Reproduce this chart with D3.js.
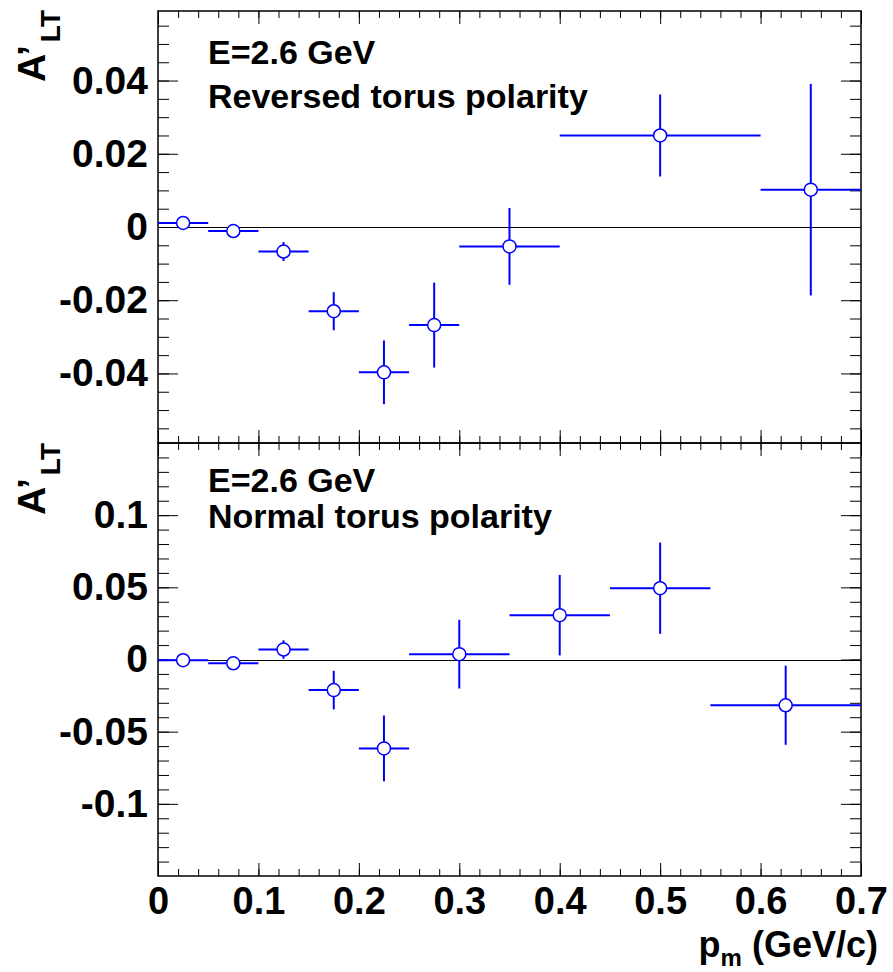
<!DOCTYPE html>
<html>
<head>
<meta charset="utf-8">
<script src="https://cdn.jsdelivr.net/npm/d3@7"></script>
<style>
  body { margin: 0; background: #fff; }
  svg { display: block; }
  text { font-family: "Liberation Sans", Arial, Helvetica, sans-serif; font-weight: bold; fill: #000; }
</style>
</head>
<body>
<div id="content"></div>
<script>
let width = 893;
let height = 972;

// x axis (shared)
let xTicks = [0, 0.1, 0.2, 0.3, 0.4, 0.5, 0.6, 0.7];

// top panel: reversed torus polarity
let revTicks = [-0.04, -0.02, 0, 0.02, 0.04];
let revX   = [0.025, 0.075, 0.125, 0.175, 0.225, 0.275, 0.35, 0.5, 0.65];
let revXLo = [0, 0.05, 0.1, 0.15, 0.2, 0.25, 0.3, 0.4, 0.6];
let revXHi = [0.05, 0.1, 0.15, 0.2, 0.25, 0.3, 0.4, 0.6, 0.7];
let revY   = [0.0011, -0.0011, -0.0067, -0.0230, -0.0397, -0.0268, -0.0053, 0.0250, 0.0102];
let revErr = [0.0008, 0.0009, 0.0026, 0.0052, 0.0087, 0.0116, 0.0105, 0.0112, 0.0289];

// bottom panel: normal torus polarity
let normTicks = [-0.1, -0.05, 0, 0.05, 0.1];
let normX   = [0.025, 0.075, 0.125, 0.175, 0.225, 0.3, 0.4, 0.5, 0.625];
let normXLo = [0, 0.05, 0.1, 0.15, 0.2, 0.25, 0.35, 0.45, 0.55];
let normXHi = [0.05, 0.1, 0.15, 0.2, 0.25, 0.35, 0.45, 0.55, 0.7];
let normY   = [-0.0005, -0.0026, 0.0069, -0.0212, -0.0616, 0.0037, 0.0307, 0.0494, -0.0317];
let normErr = [0.0020, 0.0020, 0.0064, 0.0134, 0.0228, 0.0238, 0.0279, 0.0316, 0.0274];

let frame = {left: 158, right: 861};
let blue = "#0000ff";

let svg = d3.select("#content")
    .append("svg")
    .attr("width", width)
    .attr("height", height);

let xScale = d3.scaleLinear()
    .domain([0, 0.7])
    .range([frame.left, frame.right]);

let xMinor = d3.range(0, 0.7001, 0.02);

function drawPanel(p) {
    let g = svg.append("g");
    let yScale = d3.scaleLinear().domain(p.domain).range([p.bottom, p.top]);

    // zero line
    let y0 = Math.round(yScale(0)) + 0.5;
    g.append("line")
        .attr("x1", frame.left).attr("x2", frame.right)
        .attr("y1", y0).attr("y2", y0)
        .attr("stroke", "#000").attr("stroke-width", 1);

    // frame
    g.append("rect")
        .attr("x", frame.left).attr("y", p.top)
        .attr("width", frame.right - frame.left)
        .attr("height", p.bottom - p.top)
        .attr("fill", "none").attr("stroke", "#000").attr("stroke-width", 1.5);

    let yMinor = d3.range(p.domain[0], p.domain[1], p.minorStep)
        .map(v => Math.round(v / p.minorStep) * p.minorStep)
        .filter(v => v > p.domain[0] && v < p.domain[1]);

    // left axis with labels
    g.append("g")
        .attr("transform", `translate(${frame.left},0)`)
        .call(d3.axisLeft(yScale).tickValues(p.ticks).tickFormat(d => String(d))
            .tickSizeInner(-20).tickSizeOuter(0).tickPadding(10))
        .call(a => a.select(".domain").remove())
        .call(a => a.selectAll("text").attr("font-size", 39).attr("font-family", null));
    g.append("g")
        .attr("transform", `translate(${frame.left},0)`)
        .call(d3.axisLeft(yScale).tickValues(yMinor).tickFormat("")
            .tickSizeInner(-11).tickSizeOuter(0))
        .call(a => a.select(".domain").remove());

    // right axis
    g.append("g")
        .attr("transform", `translate(${frame.right},0)`)
        .call(d3.axisRight(yScale).tickValues(p.ticks).tickFormat("")
            .tickSizeInner(-20).tickSizeOuter(0))
        .call(a => a.select(".domain").remove());
    g.append("g")
        .attr("transform", `translate(${frame.right},0)`)
        .call(d3.axisRight(yScale).tickValues(yMinor).tickFormat("")
            .tickSizeInner(-11).tickSizeOuter(0))
        .call(a => a.select(".domain").remove());

    // top axis (ticks only)
    g.append("g")
        .attr("transform", `translate(0,${p.top})`)
        .call(d3.axisTop(xScale).tickValues(xTicks).tickFormat("")
            .tickSizeInner(-13).tickSizeOuter(0))
        .call(a => a.select(".domain").remove());
    g.append("g")
        .attr("transform", `translate(0,${p.top})`)
        .call(d3.axisTop(xScale).tickValues(xMinor).tickFormat("")
            .tickSizeInner(-7).tickSizeOuter(0))
        .call(a => a.select(".domain").remove());

    // bottom axis
    let bAxis = d3.axisBottom(xScale).tickValues(xTicks)
        .tickSizeInner(-13).tickSizeOuter(0).tickPadding(11);
    if (p.xLabels) bAxis.tickFormat(d => String(d));
    else bAxis.tickFormat("");
    g.append("g")
        .attr("transform", `translate(0,${p.bottom})`)
        .call(bAxis)
        .call(a => a.select(".domain").remove())
        .call(a => a.selectAll("text").attr("font-size", 38).attr("font-family", null));
    g.append("g")
        .attr("transform", `translate(0,${p.bottom})`)
        .call(d3.axisBottom(xScale).tickValues(xMinor).tickFormat("")
            .tickSizeInner(-7).tickSizeOuter(0))
        .call(a => a.select(".domain").remove());

    g.selectAll(".tick line").attr("stroke", "#000").attr("stroke-width", 1);

    // data points with error bars
    let pts = p.x.map((x, i) => ({x: x, lo: p.xlo[i], hi: p.xhi[i], y: p.y[i], e: p.err[i]}));
    let pg = g.selectAll(".pt").data(pts).enter().append("g").attr("class", "pt");
    pg.append("line")
        .attr("x1", d => xScale(d.lo)).attr("x2", d => xScale(d.hi))
        .attr("y1", d => yScale(d.y)).attr("y2", d => yScale(d.y))
        .attr("stroke", blue).attr("stroke-width", 2);
    pg.append("line")
        .attr("x1", d => xScale(d.x)).attr("x2", d => xScale(d.x))
        .attr("y1", d => yScale(d.y - d.e)).attr("y2", d => yScale(d.y + d.e))
        .attr("stroke", blue).attr("stroke-width", 2);
    pg.append("circle")
        .attr("cx", d => xScale(d.x)).attr("cy", d => yScale(d.y))
        .attr("r", 6.5)
        .attr("fill", "#fff").attr("stroke", blue).attr("stroke-width", 1.5);

    // labels
    g.append("text").attr("x", 208).attr("y", p.textY1).attr("font-size", 34).text("E=2.6 GeV");
    g.append("text").attr("x", 208).attr("y", p.textY2).attr("font-size", 34).text(p.label);

    // y title
    let t = g.append("text")
        .attr("transform", `translate(45,${p.titleEnd}) rotate(-90)`)
        .attr("text-anchor", "end")
        .attr("font-size", 39);
    t.append("tspan").text("A\u2019");
    t.append("tspan").attr("dy", 15).attr("dx", 3).attr("font-size", 28).text("LT");
}

drawPanel({
    top: 11, bottom: 443, domain: [-0.059, 0.059], ticks: revTicks, minorStep: 0.005,
    x: revX, xlo: revXLo, xhi: revXHi, y: revY, err: revErr,
    label: "Reversed torus polarity", textY1: 64, textY2: 108, titleEnd: 10, xLabels: false
});

drawPanel({
    top: 443, bottom: 876, domain: [-0.15, 0.15], ticks: normTicks, minorStep: 0.01,
    x: normX, xlo: normXLo, xhi: normXHi, y: normY, err: normErr,
    label: "Normal torus polarity", textY1: 492, textY2: 528, titleEnd: 443, xLabels: true
});

// x title
let xt = svg.append("text")
    .attr("x", 878).attr("y", 957)
    .attr("text-anchor", "end")
    .attr("font-size", 36);
xt.append("tspan").text("p");
xt.append("tspan").attr("dy", 9).attr("font-size", 24).text("m");
xt.append("tspan").attr("dy", -9).text(" (GeV/c)");
</script>
</body>
</html>
